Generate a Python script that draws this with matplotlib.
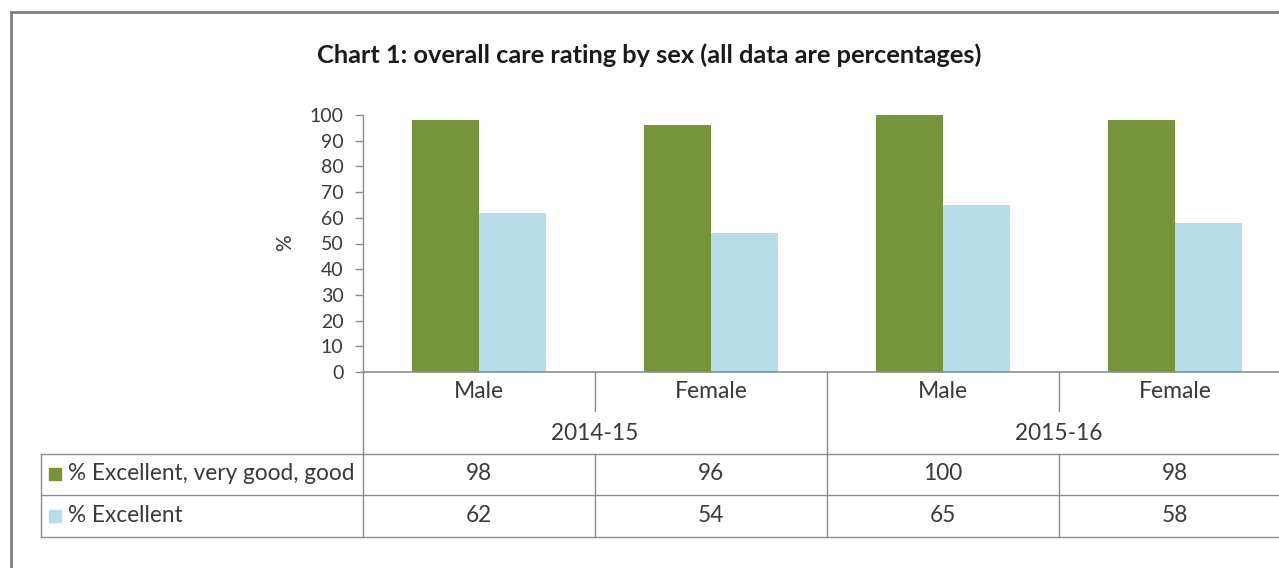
import matplotlib
matplotlib.use("Agg")
import matplotlib.pyplot as plt
from matplotlib.lines import Line2D
from matplotlib.patches import Rectangle
import matplotlib.transforms as mtransforms
import numpy as np

# ---- data ----
groups = ["2014-15", "2015-16"]
categories = ["Male", "Female", "Male", "Female"]
series_names = ["% Excellent, very good, good", "% Excellent"]
good_or_better = [98, 96, 100, 98]
excellent = [62, 54, 65, 58]
yticks = [0, 10, 20, 30, 40, 50, 60, 70, 80, 90, 100]
title = "Chart 1: overall care rating by sex (all data are percentages)"
ylabel = "%"

colors = ["#77933C", "#B7DEE8"]
text_color = "#3a3a3a"
grid_color = "#8C8C8C"

W, H = 1279, 568
fig = plt.figure(figsize=(W / 100, H / 100), dpi=100)
plt.rcParams['font.family'] = ['Lato', 'DejaVu Sans']

def fx(x):
    return x / W

def fy(y):
    return 1 - y / H

# axes: y-axis at x=363, right edge 1291 (beyond figure), top 115, bottom 372
ax = fig.add_axes([fx(363), fy(372), fx(1291) - fx(363), fy(115) - fy(372)])
ax.set_xlim(-0.5, len(categories) - 0.5)
ax.set_ylim(0, 100)
x = np.arange(len(categories))
bw = 0.29
ax.bar(x - bw / 2, good_or_better, width=bw, color=colors[0], zorder=2)
ax.bar(x + bw / 2, excellent, width=bw, color=colors[1], zorder=2)

ax.set_yticks(yticks)
ax.set_xticks([])
ax.tick_params(axis='y', direction='out', length=6, width=1, color=grid_color,
               labelsize=14, labelcolor=text_color, pad=8)
for s in ["top", "right"]:
    ax.spines[s].set_visible(False)
ax.spines["left"].set_color(grid_color)
ax.spines["bottom"].set_color(grid_color)
ax.spines["left"].set_linewidth(1)
ax.spines["bottom"].set_linewidth(1.2)
ax.set_facecolor("none")
ax.text(fx(285), fy(243), ylabel, transform=fig.transFigure, rotation=90,
        ha="center", va="center", fontsize=15, color=text_color)

# title
fig.text(fx(649), fy(55), title, ha="center", va="center", fontsize=18.3,
         fontweight="bold", color="#1a1a1a")

# blended transform: x in data, y in figure fraction
bt = mtransforms.blended_transform_factory(ax.transData, fig.transFigure)

def vline(xd, y0, y1):
    fig.add_artist(Line2D([xd, xd], [fy(y0), fy(y1)], transform=bt,
                          color=grid_color, lw=1))

def hline(y):
    fig.add_artist(Line2D([fx(41), 1.0], [fy(y), fy(y)], transform=fig.transFigure,
                          color=grid_color, lw=1))

n = len(categories)
per_group = n // len(groups)
# vertical separators
vline(-0.5, 372, 537)
for i in range(1, n):
    xd = i - 0.5
    if i % per_group == 0:
        vline(xd, 372, 537)
    else:
        vline(xd, 372, 411)
        vline(xd, 454, 537)
# horizontal lines
for yy in (454, 495, 537):
    hline(yy)
fig.add_artist(Line2D([fx(41), fx(41)], [fy(454), fy(537)], transform=fig.transFigure,
                      color=grid_color, lw=1))

# category labels
for i, c in enumerate(categories):
    t = fig.text(0, fy(392), c, ha="center", va="center", fontsize=16.5, color=text_color)
    t.set_transform(bt)
    t.set_x(i)
# group labels
for g, name in enumerate(groups):
    xc = g * per_group + (per_group - 1) / 2
    t = fig.text(0, fy(434), name, ha="center", va="center", fontsize=16.3, color=text_color)
    t.set_transform(bt)
    t.set_x(xc)

# data table rows
rows_y = [474, 516]
for r, (vals, name) in enumerate(zip([good_or_better, excellent], series_names)):
    yy = rows_y[r]
    fig.add_artist(Rectangle((fx(49), fy(yy + 6)), fx(12), fy(yy - 6) - fy(yy + 6),
                             transform=fig.transFigure, color=colors[r]))
    fig.text(fx(68), fy(yy), name, ha="left", va="center", fontsize=16.3, color=text_color)
    for i, v in enumerate(vals):
        t = fig.text(0, fy(yy), str(v), ha="center", va="center", fontsize=16.3,
                     color=text_color)
        t.set_transform(bt)
        t.set_x(i)

# outer chart frame (left & top edges visible)
fig.add_artist(Line2D([fx(11), fx(11)], [fy(12), 0], transform=fig.transFigure,
                      color="#808080", lw=2))
fig.add_artist(Line2D([fx(11), 1.0], [fy(12), fy(12)], transform=fig.transFigure,
                      color="#808080", lw=2))

fig.savefig("out.png", dpi=100, facecolor="white")
